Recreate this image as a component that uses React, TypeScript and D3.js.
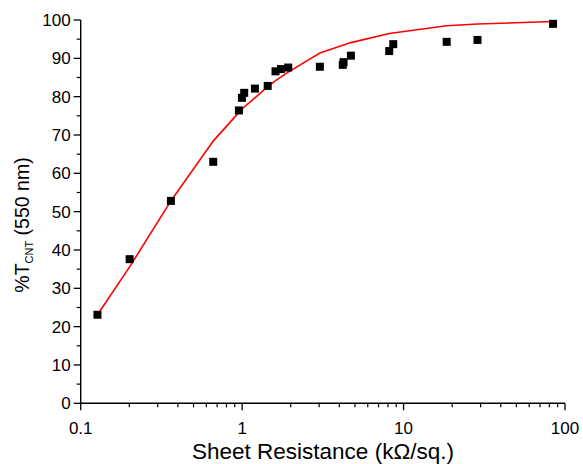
import React from "react";
import * as d3 from "d3";

// Measured data (sheet resistance in kΩ/sq., transmittance %)
const resistance = [0.127, 0.201, 0.362, 0.662, 0.955, 0.997, 1.03, 1.2, 1.44, 1.61, 1.74, 1.93, 3.03, 4.2, 4.25, 4.72, 8.15, 8.63, 18.5, 28.7, 84.3];
const transmittance = [23.1, 37.6, 52.8, 63.0, 76.4, 79.7, 81.0, 82.1, 82.8, 86.6, 87.2, 87.6, 87.8, 88.3, 89.0, 90.7, 91.9, 93.7, 94.3, 94.8, 99.0];

// Fit curve
const fitR = [0.127, 0.201, 0.362, 0.662, 0.955, 1.03, 1.2, 1.44, 1.61, 1.93, 3.03, 4.72, 8.15, 18.5, 28.7, 84.3];
const fitT = [23.1, 35.6, 52.8, 68.4, 75.9, 77.3, 79.7, 82.6, 84.2, 86.4, 91.4, 94.1, 96.5, 98.5, 98.95, 99.6];

const xTickValues = [0.1, 1, 10, 100];
const xTickLabels = ["0.1", "1", "10", "100"];
const yTickValues = [0, 10, 20, 30, 40, 50, 60, 70, 80, 90, 100];

const W = 583;
const H = 464;
const FONT = "'Liberation Sans', Arial, sans-serif";

export default function App() {
  const x = d3.scaleLog().domain([0.1, 100]).range([80.7, 565]);
  const y = d3.scaleLinear().domain([0, 100]).range([403.3, 20]);

  const minorX: number[] = [];
  for (const dec of [0.1, 1, 10]) {
    for (let m = 2; m <= 9; m++) minorX.push(dec * m);
  }
  const minorY: number[] = [];
  for (let v = 5; v < 100; v += 10) minorY.push(v);

  const line = d3
    .line<number>()
    .x((_, i) => x(fitR[i]))
    .y((d) => y(d));

  const x0 = x(0.1);
  const y0 = y(0);
  const sq = 8;

  return (
    <svg
      width={W}
      height={H}
      style={{ position: "absolute", left: 0, top: 0, display: "block", background: "#fff" }}
      fontFamily={FONT}
    >
      {/* axes lines */}
      <line x1={x0} x2={x0} y1={y(100)} y2={y0} stroke="#000" strokeWidth={1.4} />
      <line x1={x0} x2={x(100)} y1={y0} y2={y0} stroke="#000" strokeWidth={1.4} />

      {/* y ticks */}
      {yTickValues.map((v) => (
        <g key={"yt" + v}>
          <line x1={x0 - 7} x2={x0} y1={y(v)} y2={y(v)} stroke="#000" strokeWidth={1.3} />
          <text x={x0 - 10} y={y(v)} dy="0.36em" textAnchor="end" fontSize={17}>
            {v}
          </text>
        </g>
      ))}
      {minorY.map((v) => (
        <line key={"ym" + v} x1={x0 - 4} x2={x0} y1={y(v)} y2={y(v)} stroke="#000" strokeWidth={1.2} />
      ))}

      {/* x ticks */}
      {xTickValues.map((v, i) => (
        <g key={"xt" + v}>
          <line x1={x(v)} x2={x(v)} y1={y0} y2={y0 + 7} stroke="#000" strokeWidth={1.3} />
          <text x={x(v)} y={434} textAnchor="middle" fontSize={17}>
            {xTickLabels[i]}
          </text>
        </g>
      ))}
      {minorX.map((v) => (
        <line key={"xm" + v} x1={x(v)} x2={x(v)} y1={y0} y2={y0 + 4} stroke="#000" strokeWidth={1.2} />
      ))}

      {/* axis titles */}
      <text x={323} y={459} textAnchor="middle" fontSize={22.5}>
        Sheet Resistance (kΩ/sq.)
      </text>
      <text transform="translate(29,225) rotate(-90)" textAnchor="middle" fontSize={19.5}>
        %T<tspan fontSize={11} dy={4}>CNT</tspan>
        <tspan dy={-4}> (550 nm)</tspan>
      </text>

      {/* fit curve */}
      <path d={line(fitT) || ""} fill="none" stroke="#ff0000" strokeWidth={1.6} />

      {/* data points */}
      {resistance.map((r, i) => (
        <rect
          key={"p" + i}
          x={x(r) - sq / 2}
          y={y(transmittance[i]) - sq / 2}
          width={sq}
          height={sq}
          fill="#000"
        />
      ))}
    </svg>
  );
}
